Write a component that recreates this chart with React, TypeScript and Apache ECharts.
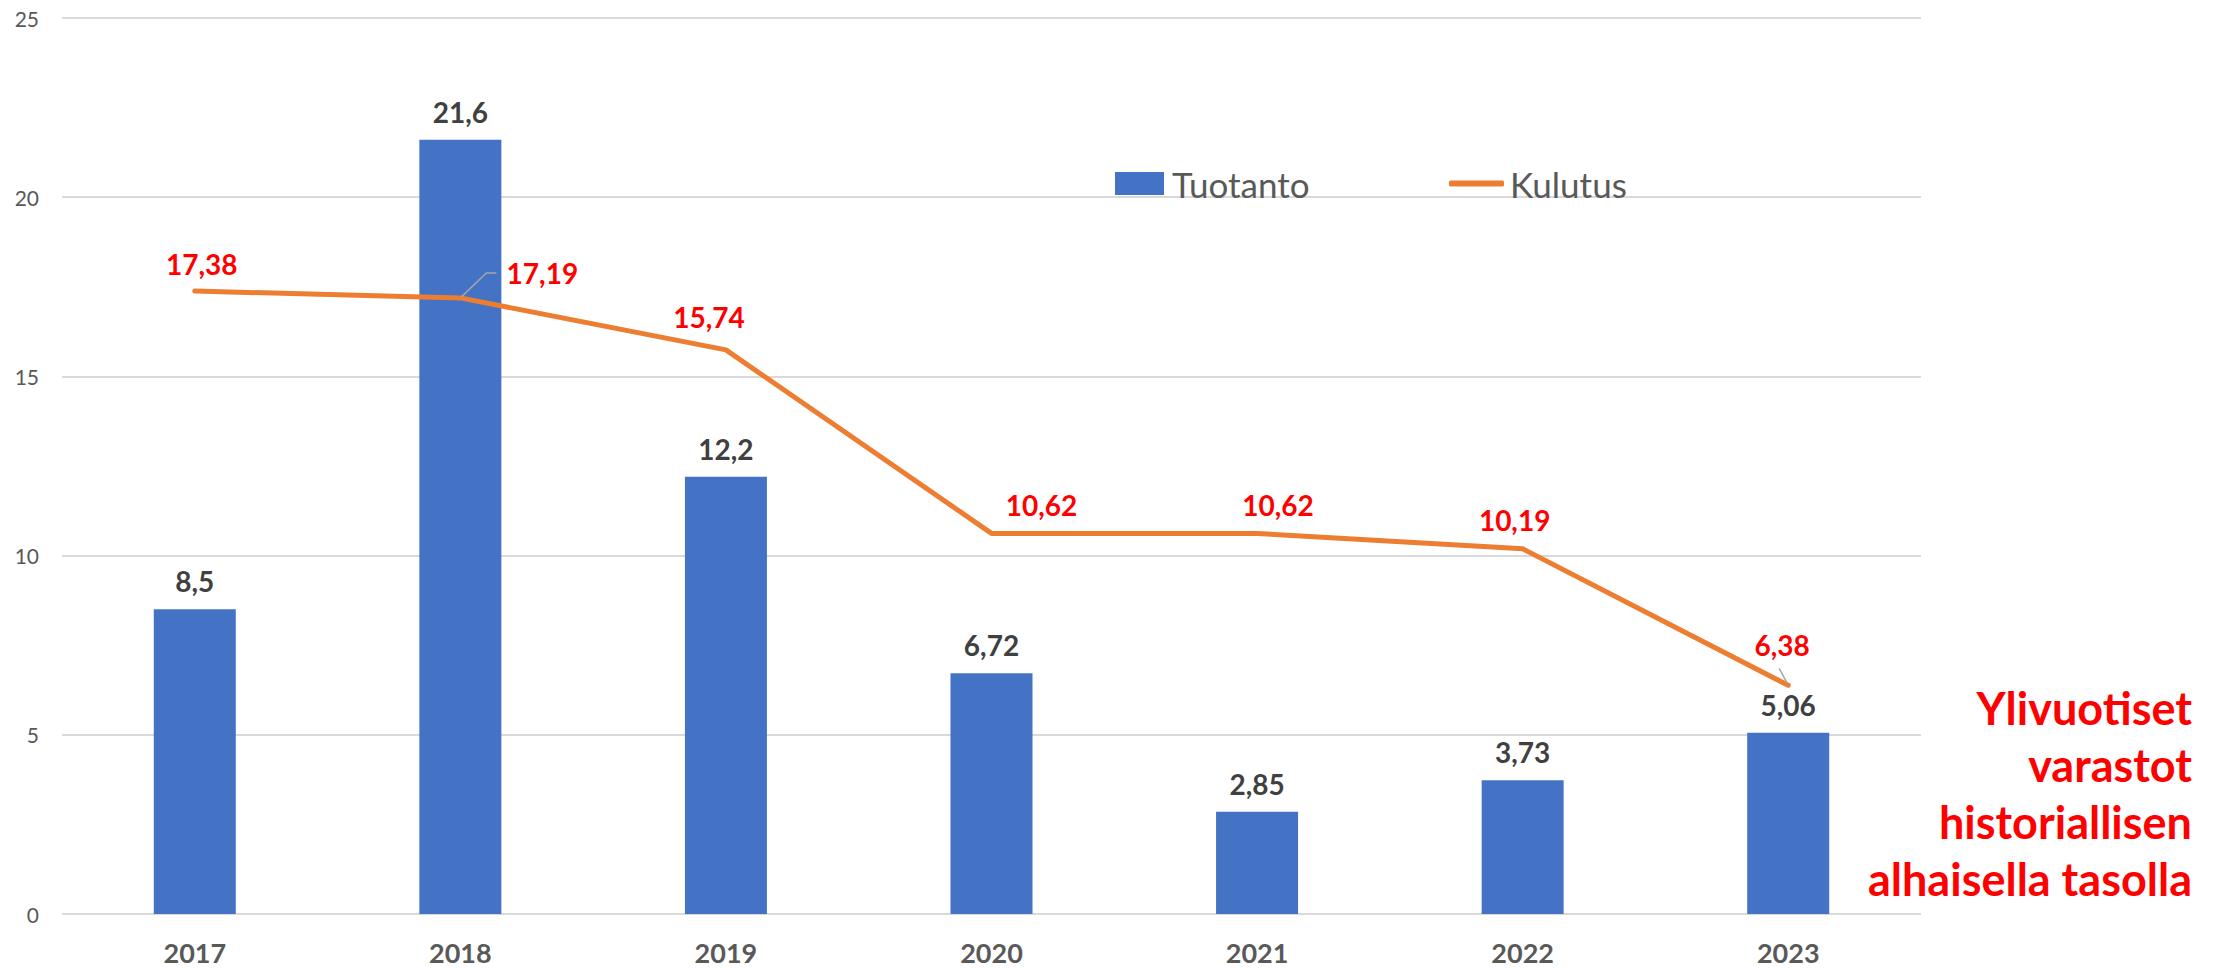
import React, { useEffect, useRef } from "react";
import * as echarts from "echarts";

const years = ["2017", "2018", "2019", "2020", "2021", "2022", "2023"];
const tuotanto = [8.5, 21.6, 12.2, 6.72, 2.85, 3.73, 5.06];
const kulutus = [17.38, 17.19, 15.74, 10.62, 10.62, 10.19, 6.38];
const seriesNames = ["Tuotanto", "Kulutus"];
const noteLines = ["Ylivuotiset", "varastot", "historiallisen", "alhaisella tasolla"];

// label placement (offset of label centre from the data point), in px
const kulutusLabelOffsets: [number, number][] = [
  [7, -27],
  [82, -25],
  [-17, -33],
  [50, -28],
  [21, -28],
  [-8, -29],
  [-6, -40],
];

const FONT = 'Lato, "Noto Sans", sans-serif';
const fmt = (v: number) => String(v).replace(".", ",");

export default function App() {
  const ref = useRef<HTMLDivElement>(null);

  useEffect(() => {
    if (!ref.current) return;
    const chart = echarts.init(ref.current, undefined, { renderer: "svg" });

    const option: any = {
      animation: false,
      backgroundColor: "#ffffff",
      textStyle: { fontFamily: FONT },
      grid: { left: 62, right: 294, top: 18, bottom: 55, containLabel: false },
      legend: [
        {
          data: [seriesNames[0]],
          left: 1110,
          top: 161,
          itemWidth: 49,
          itemHeight: 23,
          itemGap: 0,
          icon: "rect",
          textStyle: { fontFamily: FONT, fontSize: 35, color: "#595959", lineHeight: 34, padding: [0, 0, 0, 3] },
        },
        {
          data: [seriesNames[1]],
          left: 1444,
          top: 161,
          itemWidth: 55,
          itemHeight: 6,
          itemGap: 0,
          icon: "roundRect",
          textStyle: { fontFamily: FONT, fontSize: 35, color: "#595959", lineHeight: 34, padding: [0, 0, 0, 1] },
        },
      ],
      xAxis: {
        type: "category",
        data: years,
        axisLine: { show: false },
        axisTick: { show: false },
        axisLabel: {
          fontFamily: FONT,
          fontSize: 27,
          lineHeight: 22,
          fontWeight: "bold",
          color: "#595959",
          margin: 27,
        },
      },
      yAxis: {
        type: "value",
        min: 0,
        max: 25,
        interval: 5,
        axisLine: { show: false },
        axisTick: { show: false },
        axisLabel: { fontFamily: FONT, fontSize: 21, color: "#595959", margin: 23 },
        splitLine: { lineStyle: { color: "#D9D9D9", width: 2 } },
      },
      series: [
        {
          name: seriesNames[0],
          type: "bar",
          data: tuotanto,
          barWidth: 82,
          itemStyle: { color: "#4472C4" },
          label: {
            show: true,
            position: "top",
            distance: 14,
            fontFamily: FONT,
            fontSize: 28,
            fontWeight: "bold",
            color: "#404040",
            formatter: (p: any) => fmt(p.value),
          },
        },
        {
          name: seriesNames[1],
          type: "line",
          data: kulutus.map((v, i) => ({
            value: v,
            label: { offset: kulutusLabelOffsets[i] },
          })),
          symbol: "circle",
          symbolSize: 1,
          itemStyle: { color: "#ED7D31" },
          lineStyle: { color: "#ED7D31", width: 5, cap: "round", join: "round" },
          label: {
            show: true,
            position: "inside",
            fontFamily: FONT,
            fontSize: 28,
            fontWeight: "bold",
            color: "#FF0000",
            formatter: (p: any) => fmt(p.value),
          },
          z: 3,
        },
      ],
    };
    chart.setOption(option);

    const p1 = chart.convertToPixel({ xAxisIndex: 0, yAxisIndex: 0 }, [years[1], kulutus[1]]) as number[];
    const p6 = chart.convertToPixel({ xAxisIndex: 0, yAxisIndex: 0 }, [years[6], kulutus[6]]) as number[];

    chart.setOption({
      graphic: [
        {
          type: "polyline",
          z: 10,
          shape: {
            points: [
              [p1[0] + 1, p1[1] - 1],
              [p1[0] + 26, p1[1] - 25],
              [p1[0] + 36, p1[1] - 25],
            ],
          },
          style: { stroke: "#A6A6A6", lineWidth: 1.5, fill: "none" },
        },
        {
          type: "line",
          z: 10,
          shape: { x1: p6[0] - 1, y1: p6[1] - 2, x2: p6[0] - 9, y2: p6[1] - 17 },
          style: { stroke: "#A6A6A6", lineWidth: 1.5 },
        },
        {
          type: "text",
          x: 2192,
          y: 679,
          style: {
            text: noteLines.join("\n"),
            fontFamily: FONT,
            fontSize: 45,
            fontWeight: "bold",
            lineHeight: 57,
            fill: "#FF0000",
            align: "right",
            verticalAlign: "top",
          },
        },
      ],
    });

    return () => chart.dispose();
  }, []);

  return (
    <div
      ref={ref}
      style={{ position: "fixed", left: 0, top: 0, width: 2215, height: 969, background: "#fff" }}
    />
  );
}
